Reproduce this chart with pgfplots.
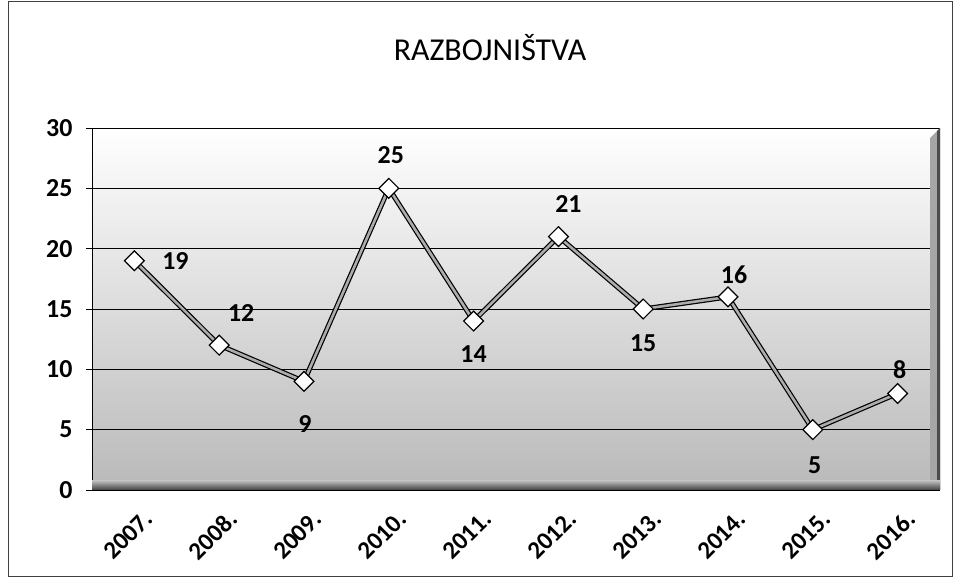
\documentclass[border=0pt]{standalone}
\usepackage{fontspec}
\setmainfont{Carlito}
\usepackage{pgfplots}
\pgfplotsset{compat=1.18}
\usepackage{pgfplotstable}

\pgfplotstableread{
x  y   dx  dy
0  19  41   0
1  12  22  32
2  9    1 -43
3  25   2  33
4  14   0 -33
5  21  10  33
6  15   0 -34
7  16   6  22
8  5    2 -36
9  8    2  24
}\datatable

\begin{document}
\begin{tikzpicture}
\useasboundingbox (0,0) rectangle (956bp,582bp);
\draw[black!75, line width=0.8bp] (8bp,6bp) rectangle (952bp,581bp);
\node[font=\fontsize{32}{36}\selectfont] at (490bp,534bp) {RAZBOJNIŠTVA};
\begin{axis}[
  at={(92bp,92bp)}, anchor=south west,
  scale only axis, width=848bp, height=362bp,
  xmin=-0.5, xmax=9.5, ymin=0, ymax=30,
  ytick={0,5,...,30},
  xtick={0,...,9},
  xticklabels={2007.,2008.,2009.,2010.,2011.,2012.,2013.,2014.,2015.,2016.},
  x tick style={draw=none},
  extra x ticks={-0.5,0.5,...,9.5},
  extra x tick labels={},
  extra x tick style={grid=none, tick style={draw=black, thin}, major tick length=6bp},
  axis lines*=left,
  axis line style={black, line width=0.9bp},
  tick align=outside,
  ytick style={draw=black, thin},
  major tick length=6bp,
  ymajorgrids,
  grid style={black, line width=0.7bp},
  /pgf/number format/assume math mode=true,
  yticklabel style={font=\bfseries\fontsize{26}{30}\selectfont, xshift=-10bp},
  xticklabel style={font=\bfseries\fontsize{25}{30}\selectfont, rotate=45, anchor=east, xshift=0bp, yshift=-23bp},
  axis background/.style={shade, top color=white, middle color=white!92!gray, bottom color=gray!55},
  clip=false,
]
% shadow wall on the right and floor
\fill[gray!70] (rel axis cs:1,0) -- (rel axis cs:1,1) -- ([xshift=-10bp,yshift=-10bp]rel axis cs:1,1) -- ([xshift=-10bp]rel axis cs:1,0) -- cycle;
\fill[black!70] (rel axis cs:1,0) -- (rel axis cs:1,1) -- ([xshift=-3bp,yshift=-3bp]rel axis cs:1,1) -- ([xshift=-3bp]rel axis cs:1,0) -- cycle;
\shade[bottom color=black!75, top color=gray!55] (rel axis cs:0,0) rectangle ([yshift=9bp]rel axis cs:1,0);
\addplot[draw=black, line width=5bp, forget plot] table[x=x,y=y] {\datatable};
\addplot[draw=gray!65, line width=2.6bp,
  mark=square*, mark size=7bp,
  mark options={fill=white, draw=black, line width=1.2bp, rotate=45},
  nodes near coords,
  point meta=explicit symbolic,
  visualization depends on={\thisrow{dx} \as \dx},
  visualization depends on={\thisrow{dy} \as \dy},
  every node near coord/.append style={anchor=center, xshift=\dx bp, yshift=\dy bp,
     font=\bfseries\fontsize{26}{30}\selectfont, text=black},
] table[x=x,y=y,meta=y] {\datatable};
\end{axis}
\end{tikzpicture}
\end{document}
